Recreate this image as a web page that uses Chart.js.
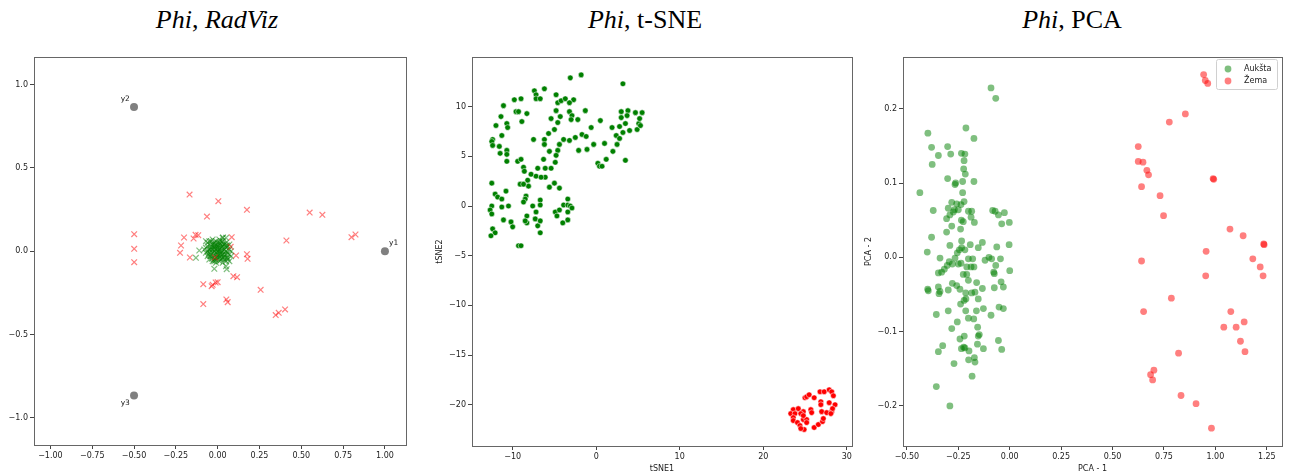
<!DOCTYPE html>
<html>
<head>
<meta charset="utf-8">
<script src="https://cdn.jsdelivr.net/npm/chart.js@4.4.0/dist/chart.umd.min.js"></script>
<style>
  html, body { margin: 0; padding: 0; background: #fff; }
  body { width: 1291px; height: 474px; position: relative; overflow: hidden; }
  .title { position: absolute; top: 5px; font-family: 'Liberation Serif', 'Times New Roman', serif; font-size: 26px; color: #000; white-space: nowrap; transform: translateX(-50%); }
  canvas { position: absolute; top: 40px; }
</style>
</head>
<body>
<div class="title" style="left:217px"><i>Phi</i>, <i>RadViz</i></div>
<div class="title" style="left:645px"><i>Phi</i>, t-SNE</div>
<div class="title" style="left:1072px"><i>Phi</i>, PCA</div>
<canvas id="radvizChart" width="420" height="434" style="left:0px"></canvas>
<canvas id="tsneChart" width="430" height="434" style="left:430px"></canvas>
<canvas id="pcaChart" width="431" height="434" style="left:860px"></canvas>
<script>
// class names
const classNames = ['Aukšta', 'Žema'];

// RadViz anchors
const radvizAnchorX = [1, -0.5, -0.5];
const radvizAnchorY = [0, 0.866, -0.866];
const radvizAnchorLabels = ['y1', 'y2', 'y3'];

// RadViz points (x, y)
const radvizAuksta = [
  [-0.06,0.05],[-0.05,0.06],[-0.03,0.07],[-0.01,0.06],[0.01,0.07],[0.03,0.06],[0.05,0.05],[0.06,0.03],
  [0.07,0.01],[0.07,-0.02],[0.06,-0.04],[0.05,-0.06],[0.03,-0.07],[0.01,-0.06],[-0.01,-0.07],[-0.03,-0.06],
  [-0.05,-0.05],[-0.06,-0.03],[-0.07,-0.01],[-0.07,0.02],[-0.06,0.03],[-0.04,0.04],[-0.02,0.05],[0.0,0.05],
  [0.02,0.04],[0.04,0.04],[0.05,0.02],[0.05,0.0],[0.05,-0.02],[0.04,-0.04],[0.02,-0.05],[0.0,-0.04],
  [-0.02,-0.05],[-0.04,-0.03],[-0.05,-0.01],[-0.05,0.01],[-0.04,0.02],[-0.02,0.03],[0.0,0.03],[0.02,0.02],
  [0.03,0.0],[0.03,-0.02],[0.01,-0.03],[-0.01,-0.02],[-0.03,-0.01],[-0.03,0.01],[-0.01,0.01],[0.01,0.0],
  [0.0,-0.01],[-0.02,0.0],[0.02,-0.01],[0.01,0.02],[-0.01,0.03],[0.04,0.01],[-0.04,-0.02],[0.03,0.03],
  [-0.03,0.04],[0.06,-0.01],[-0.06,0.0],[0.04,-0.05],[-0.02,-0.06],[0.02,0.06],[-0.04,0.06],[0.07,0.04],
  [0.08,-0.03],[0.06,-0.05],[-0.08,0.01],[0.03,0.08],[0.05,0.08],[-0.07,0.06],[0.0,0.0],[0.01,0.01],
  [-0.01,-0.01],[-0.11,0.004],[-0.13,-0.04],[-0.02,-0.106],[0.054,-0.108],[0.032,0.082],[0.05,-0.09],
  [0.07,-0.06],[0.08,0.0],
  [-0.015,0.015],[0.015,-0.015],[-0.025,-0.025],[0.025,0.025],[-0.035,0.025],[0.035,-0.035],[0.005,0.035],
  [-0.005,-0.035],[0.045,-0.005],[-0.045,0.005],[0.015,0.045],[-0.015,-0.045],[0.035,0.045],[-0.035,-0.045],
  [0.025,-0.045],[-0.025,0.045],[0.045,0.03],[-0.045,-0.03],[0.0,0.015],[0.0,-0.02],[0.02,0.0],[-0.02,0.02],
  [0.02,-0.03],[-0.01,0.04],[0.01,-0.04],[0.04,-0.02],[-0.04,0.01],[0.055,0.035],[-0.055,-0.02],[0.01,0.055],
  [-0.01,-0.055],[0.055,-0.04]
];
const radvizZema = [
  [-0.168,0.340],[0.004,0.300],[-0.064,0.208],[0.175,0.248],[0.550,0.232],[0.626,0.218],[-0.499,0.102],
  [-0.499,0.014],[-0.499,-0.066],[-0.201,0.082],[-0.219,0.034],[-0.225,-0.010],[-0.144,0.076],[-0.132,0.098],
  [-0.116,0.096],[-0.166,-0.038],[0.084,0.084],[0.078,0.026],[0.110,-0.026],[0.175,-0.018],[0.179,-0.046],
  [0.411,0.064],[0.800,0.084],[0.824,0.100],[-0.086,-0.198],[-0.036,-0.210],[-0.030,-0.202],[-0.012,-0.188],
  [0.000,-0.186],[-0.086,-0.318],[0.052,-0.290],[0.060,-0.306],[0.094,-0.150],[0.116,-0.156],[0.257,-0.232],
  [0.347,-0.384],[0.365,-0.370],[0.403,-0.350],[-0.016,-0.038]
];

// t-SNE points
const tsneAuksta = [
  [-3.1,12.9],[-1.8,13.2],[3.2,12.3],[-7.4,11.6],[-6.2,11.8],[-7.2,11.2],[-7.2,10.8],[-6.7,10.8],[-4.8,11.2],
  [-4.6,10.4],[-4.2,10.6],[-3.7,10.8],[-2.7,10.7],[-3.2,10.4],[-11.1,10.1],[-9.8,10.7],[-9.0,10.8],[-9.6,9.5],
  [-9.3,9.5],[-8.3,9.3],[-11.4,9.0],[-12.0,8.1],[-10.7,8.3],[-10.6,7.9],[-8.9,8.5],[-5.4,8.8],[-4.8,9.6],
  [-4.3,9.0],[-3.2,9.5],[-2.9,9.1],[-3.0,8.7],[-2.2,8.7],[-1.3,9.6],[-4.6,8.4],[-5.7,7.3],[-5.0,7.7],
  [-7.5,6.7],[-6.2,6.7],[-6.2,6.2],[-4.4,6.2],[-4.6,5.6],[-5.6,5.5],[-3.9,6.7],[-3.2,6.6],[-2.5,6.9],
  [-1.7,7.2],[-1.2,7.0],[-1.1,5.7],[-2.1,5.6],[-0.6,7.9],[-0.3,6.2],[0.5,8.6],[0.2,4.3],[0.4,4.0],[0.7,4.0],
  [1.0,6.3],[1.2,4.7],[2.0,5.5],[1.9,7.9],[2.4,7.1],[2.8,6.8],[2.5,6.2],[3.2,7.4],[2.8,8.0],[3.0,8.9],
  [3.0,9.5],[3.5,8.3],[3.8,9.6],[4.0,7.6],[3.7,9.1],[4.7,9.4],[4.9,7.7],[5.1,8.3],[5.2,8.8],[5.5,9.4],
  [5.3,8.1],[3.5,4.6],[-12.4,6.7],[-12.5,6.5],[-12.4,6.1],[-11.6,6.0],[-11.5,5.3],[-11.3,7.1],[-10.7,5.6],
  [-10.7,5.2],[-10.7,4.5],[-9.4,4.5],[-9.0,4.7],[-8.7,3.9],[-8.6,3.5],[-8.2,2.6],[-8.1,2.0],[-7.8,3.2],
  [-7.2,3.0],[-7.0,3.8],[-6.3,4.7],[-6.1,3.8],[-6.1,2.9],[-6.6,2.9],[-5.6,1.9],[-5.4,3.8],[-5.0,2.3],
  [-4.9,4.4],[-4.8,5.1],[-4.4,1.8],[-12.5,2.3],[-12.1,1.2],[-11.8,0.9],[-11.3,0.7],[-11.3,-0.1],[-10.8,1.5],
  [-10.5,0.0],[-11.1,-1.4],[-10.2,-1.6],[-10.0,-2.1],[-12.5,0.0],[-12.7,-0.4],[-12.5,-0.8],[-12.4,-2.3],
  [-12.1,-2.7],[-12.6,-3.0],[-9.1,2.2],[-8.7,2.2],[-8.4,1.0],[-8.5,0.7],[-8.7,0.4],[-8.3,-1.0],[-8.3,-1.7],
  [-8.5,-1.5],[-9.3,-4.0],[-9.0,-4.0],[-7.6,0.0],[-7.2,-0.6],[-6.7,0.6],[-6.7,0.1],[-7.3,-1.3],[-7.0,-2.0],
  [-6.7,-1.5],[-6.7,-2.7],[-4.9,-0.6],[-4.7,-1.0],[-4.4,-0.4],[-3.9,0.1],[-4.0,-1.7],[-3.4,0.7],[-3.4,0.1],
  [-3.4,-0.6],[-3.4,-1.4],[-3.1,0.0],[-2.9,-0.2]
];
const tsneZema = [
  [25.0,-19.3],[25.2,-19.2],[25.5,-19.0],[26.1,-19.3],[26.8,-18.7],[27.3,-18.7],[27.9,-18.5],[28.2,-18.7],
  [28.4,-19.1],[26.9,-19.7],[26.9,-20.0],[27.9,-19.8],[28.6,-20.0],[23.6,-20.5],[24.2,-20.4],[24.8,-20.7],
  [25.7,-20.5],[25.8,-20.8],[27.0,-20.7],[28.2,-20.7],[28.3,-20.4],[23.3,-20.9],[23.8,-20.9],[24.5,-20.9],
  [23.6,-21.3],[23.6,-21.6],[24.1,-21.8],[24.8,-21.5],[25.2,-21.5],[25.2,-21.8],[24.8,-21.1],[24.4,-22.1],
  [24.9,-22.5],[24.5,-22.4],[26.1,-22.3],[26.6,-22.0],[27.1,-21.7],[27.2,-21.4],[27.6,-20.8],[28.1,-20.9]
];

// PCA points
const pcaAuksta = [
  [-0.091,0.228],[-0.068,0.214],[-0.213,0.174],[-0.398,0.167],[-0.174,0.160],[-0.380,0.148],[-0.302,0.149],
  [-0.347,0.137],[-0.287,0.139],[-0.235,0.140],[-0.218,0.139],[-0.222,0.130],[-0.377,0.125],[-0.224,0.119],
  [-0.216,0.112],[-0.302,0.106],[-0.266,0.098],[-0.263,0.100],[-0.229,0.102],[-0.174,0.102],[-0.437,0.087],
  [-0.229,0.087],[-0.282,0.074],[-0.258,0.072],[-0.237,0.071],[-0.222,0.075],[-0.269,0.064],[-0.250,0.064],
  [-0.299,0.066],[-0.291,0.057],[-0.307,0.052],[-0.274,0.061],[-0.372,0.063],[-0.235,0.050],[-0.226,0.048],
  [-0.201,0.062],[-0.185,0.062],[-0.188,0.054],[-0.172,0.047],[-0.083,0.063],[-0.071,0.062],[-0.055,0.057],
  [-0.026,0.060],[-0.039,0.045],[-0.002,0.047],[-0.239,0.038],[-0.282,0.042],[-0.307,0.034],[-0.380,0.027],
  [-0.401,0.007],[-0.339,-0.001],[-0.294,-0.006],[-0.266,-0.001],[-0.255,0.006],[-0.245,0.010],[-0.234,0.013],
  [-0.218,0.010],[-0.201,-0.002],[-0.180,-0.002],[-0.153,0.013],[-0.120,-0.004],[-0.101,0.000],[-0.088,-0.002],
  [-0.068,-0.011],[-0.045,-0.002],[-0.003,0.017],[-0.063,0.014],[-0.133,0.020],[-0.192,0.017],[-0.234,0.022],
  [-0.291,0.016],[-0.347,-0.021],[-0.331,-0.020],[-0.318,-0.016],[-0.304,-0.011],[-0.279,-0.009],[-0.250,-0.009],
  [-0.237,-0.008],[-0.209,-0.013],[-0.188,-0.013],[-0.174,-0.013],[-0.226,-0.023],[-0.209,-0.023],[-0.201,-0.031],
  [-0.078,-0.020],[-0.075,-0.022],[0.000,-0.018],[-0.042,-0.033],[-0.031,-0.040],[-0.075,-0.041],[-0.133,-0.042],
  [-0.161,-0.034],[-0.169,-0.047],[-0.185,-0.048],[-0.214,-0.048],[-0.242,-0.043],[-0.258,-0.038],[-0.279,-0.035],
  [-0.299,-0.044],[-0.347,-0.040],[-0.339,-0.046],[-0.344,-0.049],[-0.399,-0.043],[-0.396,-0.045],[-0.222,-0.058],
  [-0.213,-0.056],[-0.239,-0.063],[-0.214,-0.072],[-0.162,-0.072],[-0.128,-0.069],[-0.091,-0.078],[-0.052,-0.067],
  [-0.031,-0.069],[-0.153,-0.056],[-0.357,-0.077],[-0.299,-0.072],[-0.255,-0.087],[-0.201,-0.082],[-0.175,-0.083],
  [-0.282,-0.096],[-0.156,-0.094],[-0.148,-0.104],[-0.153,-0.106],[-0.242,-0.110],[-0.221,-0.106],[-0.055,-0.112],
  [-0.039,-0.124],[-0.128,-0.123],[-0.157,-0.117],[-0.235,-0.123],[-0.224,-0.121],[-0.218,-0.122],[-0.198,-0.126],
  [-0.326,-0.119],[-0.347,-0.127],[-0.200,-0.138],[-0.172,-0.135],[-0.169,-0.141],[-0.271,-0.143],[-0.183,-0.160],
  [-0.357,-0.174],[-0.291,-0.200]
];
const pcaZema = [
  [0.943,0.246],[0.951,0.238],[0.963,0.234],[0.854,0.193],[0.776,0.182],[0.625,0.149],[0.625,0.129],
  [0.648,0.128],[0.667,0.117],[0.675,0.111],[0.641,0.095],[0.989,0.106],[0.992,0.105],[0.731,0.083],
  [0.748,0.056],[1.071,0.038],[1.135,0.029],[1.235,0.018],[1.237,0.017],[0.955,0.008],[0.641,-0.005],
  [1.182,-0.002],[1.218,-0.013],[1.232,-0.025],[0.953,-0.025],[0.786,-0.055],[0.651,-0.073],[1.075,-0.073],
  [1.041,-0.094],[1.101,-0.094],[1.140,-0.087],[1.122,-0.113],[1.144,-0.127],[0.821,-0.129],[0.701,-0.152],
  [0.685,-0.158],[0.695,-0.165],[0.833,-0.186],[0.906,-0.197],[0.981,-0.230]
];

// tick labels
const radvizXTicks = [-1, -0.75, -0.5, -0.25, 0, 0.25, 0.5, 0.75, 1];
const radvizYTicks = [-1, -0.5, 0, 0.5, 1];
const tsneXTicks = [-10, 0, 10, 20, 30];
const tsneYTicks = [-20, -15, -10, -5, 0, 5, 10];
const pcaXTicks = [-0.5, -0.25, 0, 0.25, 0.5, 0.75, 1, 1.25];
const pcaYTicks = [-0.2, -0.1, 0, 0.1, 0.2];

const FONT = "'DejaVu Sans', sans-serif";

function toXY(pts) {
  return pts.map(p => ({ x: p[0], y: p[1] }));
}

function fmt(v, decimals) {
  return v.toFixed(decimals).replace('-', '\u2212');
}

// axis with fixed ticks and fixed thickness, so the plot box lands where it should
function makeAxis(ticks, min, max, decimals, title, size, titlePad) {
  return {
    type: 'linear',
    min: min,
    max: max,
    border: { display: false },
    grid: { display: true, drawOnChartArea: false, drawTicks: true, tickLength: 4, color: '#444' },
    ticks: {
      autoSkip: false,
      maxRotation: 0,
      padding: 2,
      color: '#222',
      font: { family: FONT, size: 8 },
      callback: v => fmt(v, decimals)
    },
    title: {
      display: !!title,
      text: title || '',
      color: '#222',
      font: { family: FONT, size: 8 },
      padding: { top: titlePad || 0, bottom: titlePad || 0 }
    },
    afterBuildTicks: scale => { scale.ticks = ticks.map(v => ({ value: v })); },
    afterFit: scale => {
      if (scale.isHorizontal()) scale.height = size; else scale.width = size;
    }
  };
}

// box around the plot area (matplotlib spines)
const framePlugin = {
  id: 'frame',
  afterDraw(chart) {
    const a = chart.chartArea;
    const ctx = chart.ctx;
    ctx.save();
    ctx.strokeStyle = '#666';
    ctx.lineWidth = 1;
    ctx.strokeRect(Math.round(a.left) + 0.5, Math.round(a.top) + 0.5, Math.round(a.right - a.left), Math.round(a.bottom - a.top));
    ctx.restore();
  }
};

// y1 / y2 / y3 next to the RadViz anchors
const anchorLabelPlugin = {
  id: 'anchorLabels',
  afterDatasetsDraw(chart) {
    const xs = chart.scales.x, ys = chart.scales.y;
    const ctx = chart.ctx;
    ctx.save();
    ctx.fillStyle = '#222';
    ctx.font = '7.5px ' + FONT;
    radvizAnchorLabels.forEach((lbl, i) => {
      const ax = radvizAnchorX[i], ay = radvizAnchorY[i];
      const dx = ax < 0 ? -0.025 : 0.025;
      const dy = ay < 0 ? -0.025 : 0.025;
      ctx.textAlign = ax < 0 ? 'right' : 'left';
      ctx.textBaseline = ay < 0 ? 'top' : 'bottom';
      ctx.fillText(lbl, xs.getPixelForValue(ax + dx), ys.getPixelForValue(ay + dy));
    });
    ctx.restore();
  }
};

// legend in the upper right corner of the PCA plot
const cornerLegendPlugin = {
  id: 'cornerLegend',
  afterDraw(chart) {
    const a = chart.chartArea;
    const ctx = chart.ctx;
    const w = 61, h = 30;
    const x = a.right - 5 - w, y = a.top + 2;
    ctx.save();
    ctx.fillStyle = 'rgba(255,255,255,0.8)';
    ctx.strokeStyle = '#d0d0d0';
    ctx.lineWidth = 1;
    ctx.beginPath();
    ctx.roundRect(x + 0.5, y + 0.5, w, h, 2);
    ctx.fill();
    ctx.stroke();
    ctx.font = '8px ' + FONT;
    ctx.textBaseline = 'middle';
    ctx.textAlign = 'left';
    chart.data.datasets.forEach((ds, i) => {
      const cy = y + 10 + i * 12;
      ctx.fillStyle = ds.backgroundColor;
      ctx.beginPath();
      ctx.arc(x + 12, cy, 3.4, 0, Math.PI * 2);
      ctx.fill();
      ctx.fillStyle = '#222';
      ctx.fillText(ds.label, x + 28, cy);
    });
    ctx.restore();
  }
};

function baseOptions(padRight) {
  return {
    responsive: false,
    animation: false,
    events: [],
    layout: { padding: { top: 17, right: padRight, bottom: 0, left: 0 } },
    plugins: { legend: { display: false }, tooltip: { enabled: false } }
  };
}

function createRadvizChart() {
  const ctx = document.getElementById('radvizChart').getContext('2d');
  const options = baseOptions(14);
  options.scales = {
    x: makeAxis(radvizXTicks, -1.098, 1.126, 2, '', 29),
    y: makeAxis(radvizYTicks, -1.164, 1.166, 1, '', 34)
  };
  new Chart(ctx, {
    type: 'scatter',
    data: {
      datasets: [
        {
          label: 'anchors',
          data: radvizAnchorX.map((x, i) => ({ x: x, y: radvizAnchorY[i] })),
          pointStyle: 'circle', pointRadius: 4, backgroundColor: '#808080', borderWidth: 0, order: 1
        },
        {
          label: classNames[1],
          data: toXY(radvizZema),
          pointStyle: 'crossRot', pointRadius: 4, borderColor: 'rgba(255,0,0,0.5)', borderWidth: 1.2, order: 2
        },
        {
          label: classNames[0],
          data: toXY(radvizAuksta),
          pointStyle: 'crossRot', pointRadius: 4, borderColor: 'rgba(0,128,0,0.5)', borderWidth: 1.2, order: 3
        }
      ]
    },
    options: options,
    plugins: [framePlugin, anchorLabelPlugin]
  });
}

function createTsneChart() {
  const ctx = document.getElementById('tsneChart').getContext('2d');
  const options = baseOptions(8);
  options.scales = {
    x: makeAxis(tsneXTicks, -14.87, 30.63, 0, 'tSNE1', 28, 0),
    y: makeAxis(tsneYTicks, -24.16, 15.0, 0, 'tSNE2', 42, 5)
  };
  new Chart(ctx, {
    type: 'scatter',
    data: {
      datasets: [
        {
          label: classNames[0],
          data: toXY(tsneAuksta),
          pointRadius: 2.8, backgroundColor: '#008000', borderColor: '#ffffff', borderWidth: 0.5
        },
        {
          label: classNames[1],
          data: toXY(tsneZema),
          pointRadius: 2.8, backgroundColor: '#ff0000', borderColor: '#ffffff', borderWidth: 0.5
        }
      ]
    },
    options: options,
    plugins: [framePlugin]
  });
}

function createPcaChart() {
  const ctx = document.getElementById('pcaChart').getContext('2d');
  const options = baseOptions(9);
  options.scales = {
    x: makeAxis(pcaXTicks, -0.519, 1.324, 2, 'PCA - 1', 28, 0),
    y: makeAxis(pcaYTicks, -0.254, 0.2696, 1, 'PCA - 2', 43, 4)
  };
  new Chart(ctx, {
    type: 'scatter',
    data: {
      datasets: [
        {
          label: classNames[0],
          data: toXY(pcaAuksta),
          pointRadius: 3.4, backgroundColor: 'rgba(0,128,0,0.5)', borderWidth: 0
        },
        {
          label: classNames[1],
          data: toXY(pcaZema),
          pointRadius: 3.4, backgroundColor: 'rgba(255,0,0,0.5)', borderWidth: 0
        }
      ]
    },
    options: options,
    plugins: [framePlugin, cornerLegendPlugin]
  });
}

createRadvizChart();
createTsneChart();
createPcaChart();
</script>
</body>
</html>
